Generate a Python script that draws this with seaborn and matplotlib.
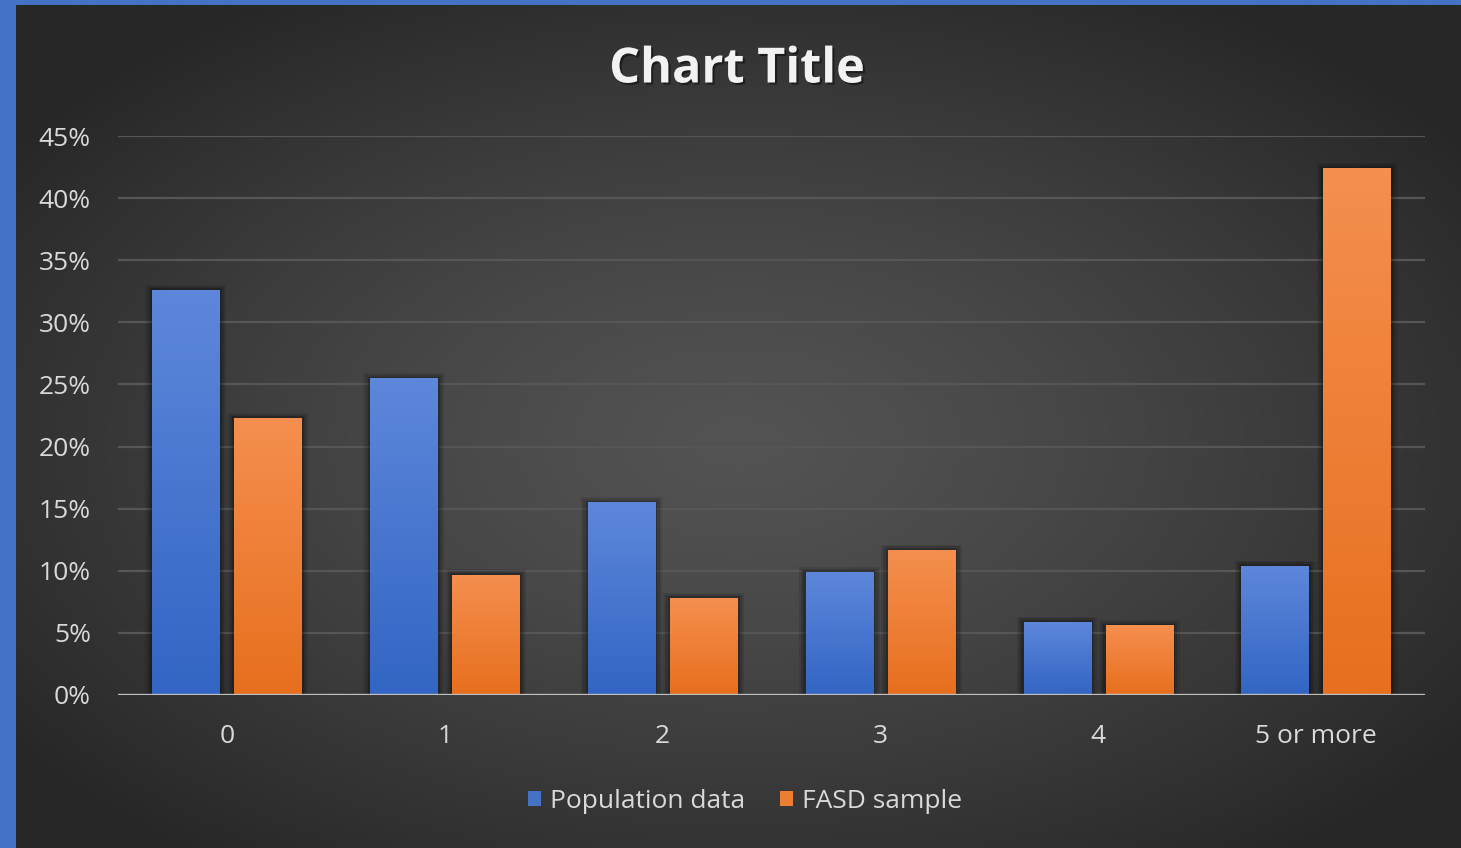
import numpy as np
import pandas as pd
import matplotlib
matplotlib.use("Agg")
import matplotlib.pyplot as plt
import matplotlib.patheffects as pe
from matplotlib.patches import Rectangle
import seaborn as sns

# Share of people by number of drinks
categories = ["0", "1", "2", "3", "4", "5 or more"]
population = [32.6, 25.5, 15.5, 9.9, 5.9, 10.4]
fasd = [22.3, 9.7, 7.8, 11.7, 5.6, 42.4]
series_names = ["Population data", "FASD sample"]
y_ticks = [0, 5, 10, 15, 20, 25, 30, 35, 40, 45]

sns.set_theme(style="dark")
plt.rcParams["font.family"] = ["Open Sans", "DejaVu Sans"]

df = pd.DataFrame({
    "category": categories * 2,
    "value": population + fasd,
    "series": [series_names[0]] * len(categories) + [series_names[1]] * len(categories),
})

W, H = 1461, 848
fig = plt.figure(figsize=(W / 100, H / 100), dpi=100)
fig.patch.set_facecolor("#4472c4")

# dark panel with a soft radial glow
bg = fig.add_axes([16 / W, 0, 1 - 16 / W, 843 / H])
bg.set_axis_off()
gx, gy = np.meshgrid(np.linspace(0, 1, 400), np.linspace(0, 1, 240))
r = np.sqrt(((gx - 0.5) / 0.62) ** 2 + ((gy - 0.52) / 0.62) ** 2)
r = np.clip(r, 0, 1)
center = np.array([0x53, 0x53, 0x53]) / 255
edge = np.array([0x27, 0x27, 0x27]) / 255
img = center[None, None, :] + (edge - center)[None, None, :] * (r[..., None] ** 1.3)
bg.imshow(img, extent=[0, 1, 0, 1], aspect="auto", interpolation="bicubic")
bg.set_xlim(0, 1)
bg.set_ylim(0, 1)

ax = fig.add_axes([118 / W, 1 - 695 / H, (1425 - 118) / W, (695 - 136) / H])
ax.patch.set_alpha(0)

palette = {series_names[0]: "#4472c4", series_names[1]: "#ed7d31"}
sns.barplot(data=df, x="category", y="value", hue="series", palette=palette,
            width=0.753, gap=0.18, ax=ax, legend=False, saturation=1,
            linewidth=0, zorder=3)

grads = [("#5d87da", "#3365c4"), ("#f58f4f", "#e76f1e")]
for cont, (top_c, bot_c) in zip(ax.containers, grads):
    tc = np.array(matplotlib.colors.to_rgb(top_c))
    bc = np.array(matplotlib.colors.to_rgb(bot_c))
    t = np.linspace(0, 1, 100)[:, None]
    grad = (tc[None, :] * (1 - t) + bc[None, :] * t)[:, None, :]
    for p in cont.patches:
        x0, w, h = p.get_x(), p.get_width(), p.get_height()
        # soft dark halo behind each bar
        for k, a in [(0.09, 0.10), (0.06, 0.14), (0.03, 0.2)]:
            ax.add_patch(Rectangle((x0 - k * 0.35, 0), w + 2 * k * 0.35, h + k * 4.5,
                                   facecolor="black", alpha=a, lw=0, zorder=2))
        im = ax.imshow(grad, extent=[x0, x0 + w, 0, h], aspect="auto",
                       interpolation="bilinear", zorder=4)
        im.set_clip_path(p)

ax.set_xlim(-0.5, 5.5)
ax.set_ylim(0, 45)
ax.set_yticks(y_ticks)
ax.set_yticklabels([f"{v}%" for v in y_ticks])
ax.set_xlabel("")
ax.set_ylabel("")
for s in ax.spines.values():
    s.set_visible(False)
ax.grid(False)
for v in y_ticks[1:]:
    ax.axhline(v, color="#565656", lw=1.6, zorder=1)
ax.axhline(0, color="#bfbfbf", lw=2.4, zorder=5)
ax.tick_params(axis="both", length=0, labelsize=19, colors="#d9d9d9")
ax.tick_params(axis="y", pad=19.5)
ax.tick_params(axis="x", pad=21)

fig.text(737 / W, 1 - 70 / H, "Chart Title", ha="center", va="center",
         fontsize=35, fontweight="bold", color="#f2f2f2",
         path_effects=[pe.withSimplePatchShadow(offset=(1.5, -1.5), shadow_rgbFace="black", alpha=0.45)])

handles = [Rectangle((0, 0), 1, 1, facecolor=palette[n], lw=0) for n in series_names]
leg = fig.legend(handles, series_names, loc="center", bbox_to_anchor=(745 / W, 1 - 801 / H),
                 ncol=2, frameon=False, fontsize=19, handlelength=0.5, handleheight=0.5,
                 handletextpad=0.35, columnspacing=1.3, labelcolor="#d9d9d9")

fig.savefig("out.png", dpi=100, facecolor=fig.get_facecolor())
